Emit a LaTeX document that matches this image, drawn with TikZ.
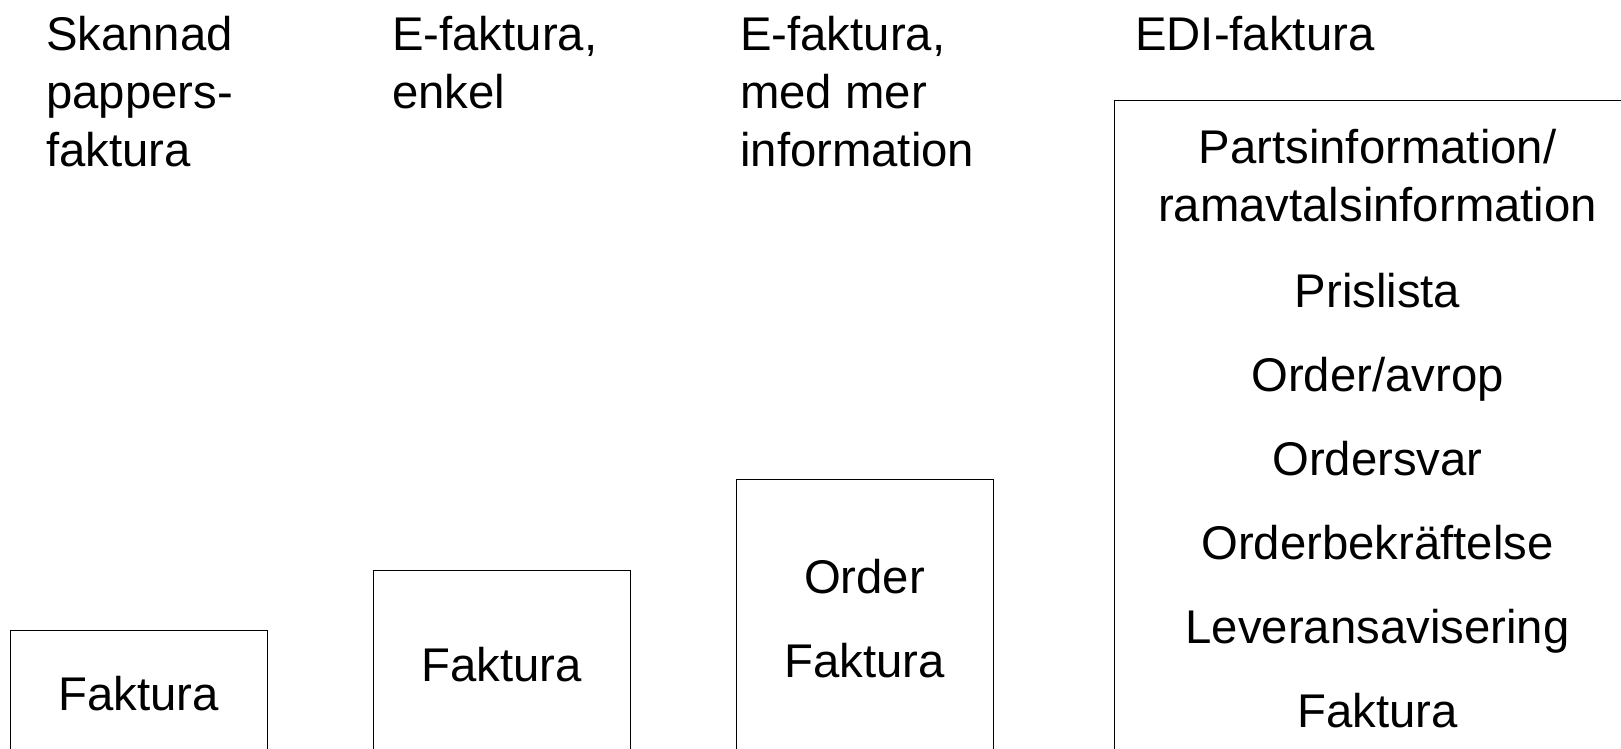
\documentclass[tikz,border=0pt]{standalone}
\usepackage{fontspec}
\setmainfont{Liberation Sans}

\begin{document}
\begin{tikzpicture}
			[x=1pt,y=-1pt,line cap=round,
			%Styles
			heading/.style={anchor=base west,inner sep=0pt,align=left,font=\fontsize{47.3}{58}\selectfont},
			item/.style={anchor=base,inner sep=0pt,font=\fontsize{47.3}{57}\selectfont},
			column box/.style={draw,line width=1.2pt,anchor=north west,inner sep=0pt,minimum width=#1}
			]
			
			%Page
			\useasboundingbox (0,0) rectangle (1621,748);
			\clip (0,0) rectangle (1621,748);
			
			%Headings (placed at the baseline of their last line)
			\node[heading] (H1) at (46,166) {Skannad\\pappers-\\faktura};
			\node[heading] (H2) at (392,108) {E-faktura,\\enkel};
			\node[heading] (H3) at (740,166) {E-faktura,\\med mer\\information};
			\node[heading] (H4) at (1135,50) {EDI-faktura};
			
			%The boxes, open at the bottom
			\node[column box=257pt,minimum height=140pt] (B1) at (10,630) {};
			\node[column box=257pt,minimum height=200pt] (B2) at (373,570) {};
			\node[column box=257pt,minimum height=290pt] (B3) at (736,479) {};
			\node[column box=527pt,minimum height=670pt] (B4) at (1114,100) {};
			
			%Messages
			\node[item] (F1) at (138.5,710) {Faktura};
			\node[item] (F2) at (501.5,681) {Faktura};
			\node[item] (O3) at (864.5,593) {Order};
			\node[item] (F3) at (864.5,677) {Faktura};
			\node[item] (P4) at (1377.5,163) {Partsinformation/};
			\node[item] (R4) at (1377.5,221) {ramavtalsinformation};
			\node[item] (L4) at (1377.5,307) {Prislista};
			\node[item] (A4) at (1377.5,391) {Order/avrop};
			\node[item] (S4) at (1377.5,475) {Ordersvar};
			\node[item] (K4) at (1377.5,559) {Orderbekräftelse};
			\node[item] (V4) at (1377.5,643) {Leveransavisering};
			\node[item] (F4) at (1377.5,727) {Faktura};
		\end{tikzpicture}
\end{document}
